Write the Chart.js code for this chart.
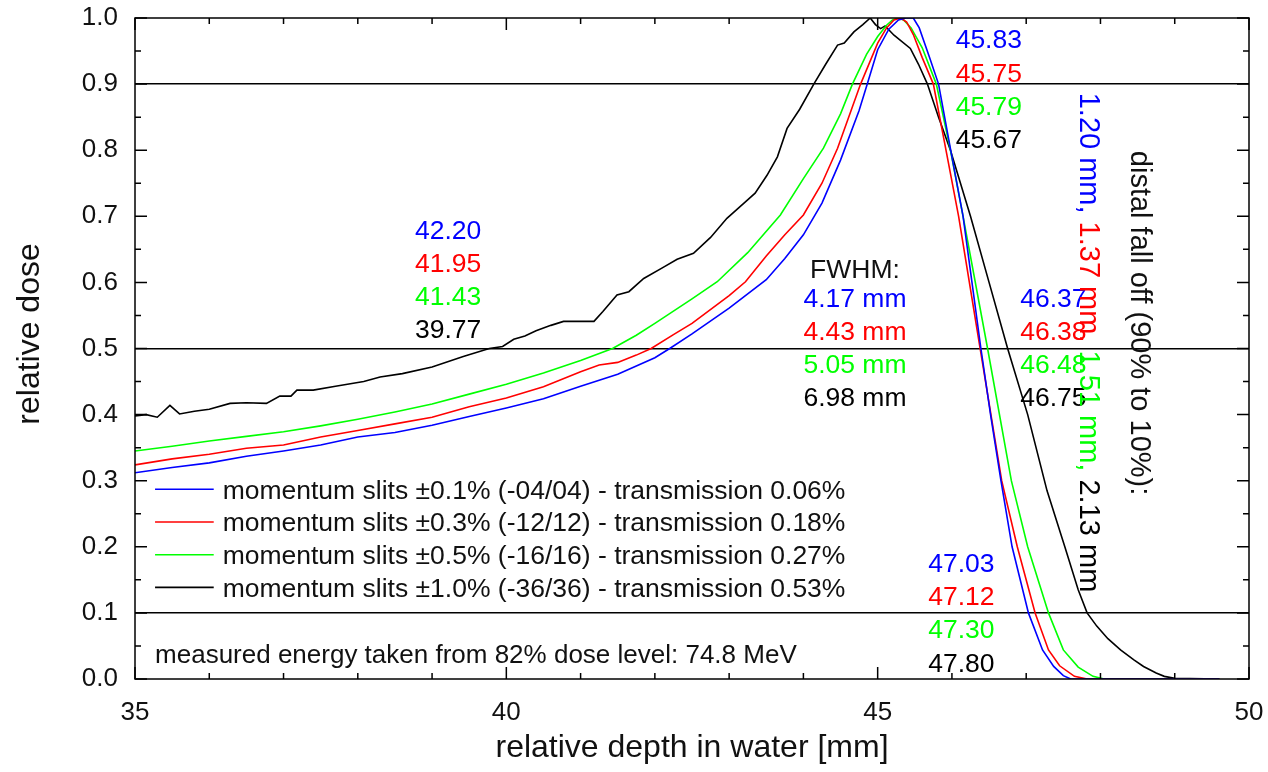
<!DOCTYPE html>
<html>
<head>
<meta charset="utf-8">
<script src="https://cdn.jsdelivr.net/npm/chart.js@4"></script>
<style>
  body { margin: 0; background: #fff; }
  canvas { display: block; }
</style>
</head>
<body>
<canvas id="doseChart" width="1268" height="772"></canvas>
<script>
// depth dose curves
var depthBlue = [35.0, 35.5, 36.0, 36.5, 37.0, 37.5, 38.0, 38.5, 39.0, 39.5, 40.0, 40.5, 41.0, 41.5, 42.0, 42.2, 42.5, 43.0, 43.5, 43.75, 44.0, 44.25, 44.5, 44.75, 44.86, 45.0, 45.15, 45.28, 45.38, 45.48, 45.56, 45.7, 45.82, 46.0, 46.15, 46.39, 46.52, 46.66, 46.81, 47.03, 47.22, 47.37, 47.5, 47.6, 48.0, 49.0, 49.6];
var doseBlue = [0.312, 0.320, 0.327, 0.337, 0.345, 0.354, 0.366, 0.373, 0.384, 0.397, 0.410, 0.424, 0.443, 0.461, 0.486, 0.500, 0.522, 0.561, 0.604, 0.636, 0.672, 0.720, 0.785, 0.860, 0.900, 0.952, 0.983, 0.997, 1.000, 1.000, 0.985, 0.940, 0.900, 0.790, 0.700, 0.500, 0.400, 0.300, 0.200, 0.100, 0.044, 0.019, 0.005, 0.000, 0.000, 0.000, 0.000];

var depthRed = [35.0, 35.5, 36.0, 36.5, 37.0, 37.5, 38.0, 38.5, 39.0, 39.5, 40.0, 40.5, 41.0, 41.25, 41.5, 41.75, 41.95, 42.25, 42.5, 43.0, 43.22, 43.5, 43.75, 44.0, 44.25, 44.46, 44.77, 45.0, 45.12, 45.22, 45.31, 45.39, 45.48, 45.6, 45.75, 45.92, 46.09, 46.38, 46.67, 46.88, 47.12, 47.3, 47.45, 47.65, 47.82, 48.5, 49.6];
var doseRed = [0.324, 0.333, 0.340, 0.349, 0.354, 0.366, 0.376, 0.386, 0.396, 0.412, 0.425, 0.442, 0.465, 0.475, 0.479, 0.490, 0.500, 0.521, 0.538, 0.580, 0.601, 0.640, 0.672, 0.702, 0.750, 0.803, 0.900, 0.962, 0.985, 0.997, 1.000, 0.994, 0.975, 0.940, 0.900, 0.800, 0.700, 0.500, 0.300, 0.200, 0.100, 0.044, 0.020, 0.004, 0.000, 0.000, 0.000];

var depthGreen = [35.0, 35.5, 36.0, 36.5, 37.0, 37.5, 38.0, 38.5, 39.0, 39.5, 40.0, 40.5, 41.0, 41.43, 41.75, 42.0, 42.5, 42.84, 43.25, 43.69, 44.0, 44.27, 44.5, 44.66, 44.85, 45.0, 45.12, 45.2, 45.27, 45.35, 45.45, 45.6, 45.79, 45.98, 46.15, 46.48, 46.8, 47.02, 47.3, 47.5, 47.7, 47.9, 48.05, 48.6, 49.6];
var doseGreen = [0.345, 0.352, 0.360, 0.367, 0.374, 0.383, 0.393, 0.404, 0.416, 0.431, 0.446, 0.463, 0.482, 0.500, 0.520, 0.538, 0.575, 0.601, 0.645, 0.702, 0.757, 0.803, 0.855, 0.900, 0.945, 0.972, 0.989, 0.997, 1.000, 0.997, 0.985, 0.955, 0.900, 0.800, 0.700, 0.500, 0.300, 0.200, 0.100, 0.044, 0.018, 0.004, 0.000, 0.000, 0.000];

var depthBlack = [35.0, 35.15, 35.3, 35.47, 35.6, 35.8, 36.0, 36.28, 36.5, 36.77, 36.95, 37.1, 37.18, 37.4, 37.7, 38.08, 38.3, 38.6, 39.0, 39.42, 39.77, 39.95, 40.1, 40.25, 40.4, 40.6, 40.77, 41.0, 41.18, 41.3, 41.49, 41.65, 41.85, 42.1, 42.3, 42.52, 42.75, 42.97, 43.2, 43.35, 43.51, 43.65, 43.78, 43.95, 44.14, 44.3, 44.46, 44.55, 44.68, 44.8, 44.9, 44.97, 45.04, 45.1, 45.22, 45.44, 45.55, 45.67, 45.82, 45.98, 46.25, 46.5, 46.75, 47.02, 47.28, 47.52, 47.7, 47.82, 47.95, 48.1, 48.27, 48.45, 48.58, 48.75, 48.86, 49.0, 49.6];
var doseBlack = [0.398, 0.400, 0.396, 0.414, 0.401, 0.405, 0.408, 0.417, 0.418, 0.417, 0.428, 0.428, 0.437, 0.437, 0.443, 0.450, 0.457, 0.462, 0.472, 0.488, 0.500, 0.503, 0.514, 0.519, 0.527, 0.535, 0.541, 0.541, 0.541, 0.556, 0.581, 0.586, 0.606, 0.622, 0.635, 0.644, 0.668, 0.697, 0.720, 0.735, 0.762, 0.790, 0.833, 0.862, 0.900, 0.930, 0.959, 0.962, 0.979, 0.990, 1.000, 0.990, 0.984, 0.988, 0.974, 0.954, 0.930, 0.900, 0.850, 0.800, 0.700, 0.600, 0.500, 0.400, 0.285, 0.200, 0.135, 0.100, 0.080, 0.061, 0.044, 0.029, 0.019, 0.009, 0.004, 0.001, 0.000];

var seriesLabels = [
  "momentum slits \u00b10.1% (-04/04) - transmission 0.06%",
  "momentum slits \u00b10.3% (-12/12) - transmission 0.18%",
  "momentum slits \u00b10.5% (-16/16) - transmission 0.27%",
  "momentum slits \u00b11.0% (-36/36) - transmission 0.53%"
];
var seriesColors = ["#0000ff", "#ff0000", "#00ff00", "#000000"];

// annotation values
var proximal50 = ["42.20", "41.95", "41.43", "39.77"];
var distal90 = ["45.83", "45.75", "45.79", "45.67"];
var fwhm = ["4.17 mm", "4.43 mm", "5.05 mm", "6.98 mm"];
var distal50 = ["46.37", "46.38", "46.48", "46.75"];
var distal10 = ["47.03", "47.12", "47.30", "47.80"];
var falloff = ["1.20 mm", "1.37 mm", "1.51 mm", "2.13 mm"];
var refLevels = [0.1, 0.5, 0.9];

function pts(xs, ys) {
  var out = [];
  for (var i = 0; i < xs.length; i++) out.push({ x: xs[i], y: ys[i] });
  return out;
}

var FONT = "'Liberation Sans', Arial, sans-serif";

// draws frame, inward ticks, legend and text notes
var extras = {
  id: "extras",
  afterDraw: function(chart) {
    var ctx = chart.ctx, a = chart.chartArea;
    var xs = chart.scales.x, ys = chart.scales.y;
    var i, v, p, len;
    ctx.save();
    ctx.strokeStyle = "#000";
    ctx.lineWidth = 1.5;
    ctx.strokeRect(a.left, a.top, a.right - a.left, a.bottom - a.top);

    ctx.beginPath();
    for (v = 35; v <= 50; v++) {
      p = xs.getPixelForValue(v);
      len = v % 5 === 0 ? 12 : 6;
      ctx.moveTo(p, a.bottom); ctx.lineTo(p, a.bottom - len);
      ctx.moveTo(p, a.top); ctx.lineTo(p, a.top + len);
    }
    for (i = 0; i <= 20; i++) {
      p = ys.getPixelForValue(i * 0.05);
      len = i % 2 === 0 ? 12 : 6;
      ctx.moveTo(a.left, p); ctx.lineTo(a.left + len, p);
      ctx.moveTo(a.right, p); ctx.lineTo(a.right - len, p);
    }
    ctx.stroke();

    ctx.textBaseline = "alphabetic";
    ctx.textAlign = "left";

    // y axis title, a bit above the middle as in the original
    ctx.save();
    ctx.font = "32px " + FONT;
    ctx.fillStyle = "#111";
    ctx.translate(39, ys.getPixelForValue(0.522));
    ctx.rotate(-Math.PI / 2);
    ctx.textAlign = "center";
    ctx.fillText("relative dose", 0, 0);
    ctx.restore();

    // legend
    ctx.font = "26.5px " + FONT;
    for (i = 0; i < seriesLabels.length; i++) {
      var ly = ys.getPixelForValue(0.287) + i * 32.7;
      ctx.strokeStyle = seriesColors[i];
      ctx.lineWidth = 1.6;
      ctx.beginPath();
      ctx.moveTo(xs.getPixelForValue(35.27), ly);
      ctx.lineTo(xs.getPixelForValue(36.06), ly);
      ctx.stroke();
      ctx.fillStyle = "#111";
      ctx.fillText(seriesLabels[i], xs.getPixelForValue(36.18), ly + 9.5);
    }

    function column(list, x, y) {
      var px = xs.getPixelForValue(x), py = ys.getPixelForValue(y);
      for (var k = 0; k < list.length; k++) {
        ctx.fillStyle = seriesColors[k];
        ctx.fillText(list[k], px, py + k * 33.2);
      }
    }
    column(proximal50, 38.77, 0.666);
    column(distal90, 46.05, 0.954);
    column(distal50, 46.92, 0.563);
    column(distal10, 45.68, 0.162);
    column(fwhm, 44.0, 0.563);
    ctx.fillStyle = "#111";
    ctx.fillText("FWHM:", xs.getPixelForValue(44.09), ys.getPixelForValue(0.607));
    ctx.font = "26px " + FONT;
    ctx.fillText("measured energy taken from 82% dose level: 74.8 MeV",
      xs.getPixelForValue(35.27), ys.getPixelForValue(0.024));

    // rotated fall-off note
    ctx.font = "29px " + FONT;
    ctx.save();
    ctx.translate(xs.getPixelForValue(48.41), ys.getPixelForValue(0.799));
    ctx.rotate(Math.PI / 2);
    ctx.fillStyle = "#111";
    ctx.fillText("distal fall off (90% to 10%):", 0, 0);
    ctx.restore();

    ctx.save();
    ctx.translate(xs.getPixelForValue(47.72), ys.getPixelForValue(0.887));
    ctx.rotate(Math.PI / 2);
    var off = 0;
    for (i = 0; i < falloff.length; i++) {
      var piece = falloff[i] + (i < falloff.length - 1 ? ", " : "");
      ctx.fillStyle = seriesColors[i];
      ctx.fillText(piece, off, 0);
      off += ctx.measureText(piece).width;
    }
    ctx.restore();
    ctx.restore();
  }
};

var datasets = [];
var depths = [depthBlue, depthRed, depthGreen, depthBlack];
var doses = [doseBlue, doseRed, doseGreen, doseBlack];
for (var s = 0; s < depths.length; s++) {
  datasets.push({
    label: seriesLabels[s],
    data: pts(depths[s], doses[s]),
    borderColor: seriesColors[s],
    borderWidth: 1.6,
    pointRadius: 0,
    tension: 0,
    fill: false
  });
}

new Chart(document.getElementById("doseChart").getContext("2d"), {
  type: "line",
  data: { datasets: datasets },
  options: {
    responsive: false,
    animation: false,
    layout: { padding: { top: 18, right: 19, left: 0, bottom: 0 } },
    plugins: { legend: { display: false }, tooltip: { enabled: false } },
    scales: {
      x: {
        type: "linear",
        min: 35,
        max: 50,
        afterFit: function(scale) {
          scale.height = 93;
          scale.paddingLeft = 0;
          scale.paddingRight = 0;
        },
        border: { display: false },
        grid: { display: false },
        ticks: {
          stepSize: 5,
          padding: 10,
          color: "#111",
          font: { family: FONT, size: 26 }
        },
        title: {
          display: true,
          text: "relative depth in water [mm]",
          color: "#111",
          font: { family: FONT, size: 32 },
          padding: { top: 0, bottom: 5 }
        }
      },
      y: {
        min: 0,
        max: 1,
        afterFit: function(scale) {
          scale.width = 135;
          scale.paddingTop = 0;
          scale.paddingBottom = 0;
        },
        border: { display: false },
        grid: {
          drawTicks: false,
          lineWidth: 1.5,
          color: function(c) {
            var v = Math.round(c.tick.value * 10) / 10;
            return refLevels.indexOf(v) >= 0 ? "#000" : "rgba(0,0,0,0)";
          }
        },
        ticks: {
          stepSize: 0.1,
          padding: 17,
          color: "#111",
          font: { family: FONT, size: 26 },
          callback: function(v) { return v.toFixed(1); }
        }
      }
    }
  },
  plugins: [extras]
});
</script>
</body>
</html>
